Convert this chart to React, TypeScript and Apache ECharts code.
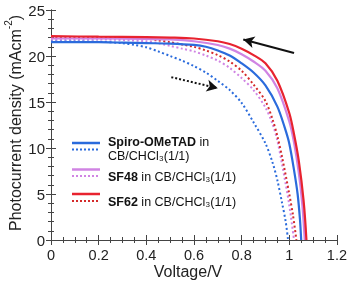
import React, { useEffect, useRef } from "react";
import * as echarts from "echarts";

const xTicks = [0, 0.2, 0.4, 0.6, 0.8, 1, 1.2];
const yTicks = [0, 5, 10, 15, 20, 25];

const spiroSolid = [[0,21.5],[0.1,21.5],[0.2,21.5],[0.3,21.45],[0.4,21.4],[0.5,21.35],[0.6,21.2],[0.65,21.0],[0.7,20.6],[0.75,20.05],[0.8,19.2],[0.85,18.2],[0.9,16.8],[0.95,14.5],[0.98,12.3],[1.0,10.5],[1.02,7.6],[1.035,5.0],[1.045,2.2],[1.05,0]];
const spiroDotted = [[0,21.6],[0.1,21.6],[0.2,21.55],[0.3,21.4],[0.35,21.2],[0.4,20.95],[0.45,20.5],[0.5,20.0],[0.55,19.5],[0.6,18.9],[0.65,18.2],[0.7,17.3],[0.75,16.3],[0.8,14.9],[0.85,12.8],[0.9,10.5],[0.93,8.4],[0.95,6.5],[0.97,4.0],[0.985,2.0],[0.995,0]];
const sf48Solid = [[0,21.9],[0.2,21.9],[0.4,21.85],[0.5,21.8],[0.6,21.6],[0.7,21.2],[0.75,20.8],[0.8,20.2],[0.85,19.4],[0.9,18.4],[0.95,16.5],[1.0,12.9],[1.02,10.6],[1.04,7.3],[1.055,3.8],[1.065,0]];
const sf48Dotted = [[0,21.8],[0.2,21.8],[0.4,21.6],[0.45,21.4],[0.5,21.1],[0.55,20.8],[0.6,20.5],[0.65,20.05],[0.7,19.5],[0.75,18.7],[0.8,17.6],[0.85,16.3],[0.9,14.4],[0.93,12.6],[0.95,10.8],[0.97,8.2],[1.0,3.8],[1.02,0]];
const sf62Solid = [[0,22.15],[0.2,22.1],[0.4,22.05],[0.5,22.0],[0.6,21.9],[0.7,21.6],[0.75,21.3],[0.8,20.8],[0.85,20.1],[0.9,19.2],[0.95,17.3],[1.0,13.8],[1.02,11.5],[1.04,8.6],[1.06,4.3],[1.072,0]];
const sf62Dotted = [[0,22.0],[0.2,22.0],[0.4,21.9],[0.45,21.7],[0.5,21.5],[0.55,21.25],[0.6,21.0],[0.65,20.6],[0.7,20.1],[0.75,19.4],[0.8,18.4],[0.85,16.9],[0.9,15.1],[0.93,13.1],[0.95,11.3],[0.97,9.0],[1.0,5.0],[1.015,2.8],[1.03,0]];

const solidArrow = [[1.02, 20.33], [0.807, 21.8]];
const dottedArrow = [[0.505, 17.7], [0.70, 16.5]];

const BLUE = "#2a6bdc";
const PINK = "#d084e3";
const RED = "#e8232f";
const RED_DOT = "#d42a2a";
const FONT = "Liberation Sans";

export default function App() {
  const ref = useRef<HTMLDivElement>(null);
  useEffect(() => {
    document.body.style.margin = "0";
    const chart = echarts.init(ref.current!, null, { renderer: "svg" });
    const axisLine = { show: true, lineStyle: { color: "#444", width: 1 } };
    const tickCommon = { show: true, inside: true, length: 5, lineStyle: { color: "#444", width: 1 } };
    const minorCommon = { show: true, length: 3, lineStyle: { color: "#444", width: 1 } };
    const rich = {
      b: { fontWeight: "bold", fontSize: 12.5, fontFamily: FONT, fill: "#111" },
      n: { fontSize: 12.5, fontFamily: FONT, fill: "#111" },
    };
    const line = (data: number[][], color: string, dotted: boolean, z: number) => ({
      type: "line",
      data,
      showSymbol: false,
      smooth: 0.3,
      z,
      lineStyle: dotted ? { color, width: 2, type: [2, 2.5] } : { color, width: 2.2 },
    });
    chart.setOption({
      animation: false,
      grid: { left: 51, right: 12, top: 10, bottom: 44 },
      xAxis: [
        {
          type: "value", min: 0, max: 1.2, interval: 0.2, position: "bottom",
          axisLine, axisTick: tickCommon, minorTick: { ...minorCommon, splitNumber: 4 },
          splitLine: { show: false },
          axisLabel: { color: "#222", fontSize: 14.5, fontFamily: FONT, margin: 7,
            formatter: (v: number) => (xTicks.includes(Math.round(v * 10) / 10) ? String(Math.round(v * 10) / 10) : "") },
        },
        {
          type: "value", min: 0, max: 1.2, interval: 0.2, position: "top",
          axisLine, axisTick: tickCommon, minorTick: { ...minorCommon, splitNumber: 4 },
          splitLine: { show: false }, axisLabel: { show: false },
        },
      ],
      yAxis: [
        {
          type: "value", min: 0, max: 25, interval: 5, position: "left",
          axisLine, axisTick: tickCommon, minorTick: { ...minorCommon, splitNumber: 5 },
          splitLine: { show: false },
          axisLabel: { color: "#222", fontSize: 15, fontFamily: FONT, margin: 6,
            formatter: (v: number) => (yTicks.includes(v) ? String(v) : "") },
        },
        {
          type: "value", min: 0, max: 25, interval: 5, position: "right",
          axisLine, axisTick: tickCommon, minorTick: { ...minorCommon, splitNumber: 5 },
          splitLine: { show: false }, axisLabel: { show: false },
        },
      ],
      series: [
        line(spiroDotted, BLUE, true, 2),
        line(sf48Dotted, PINK, true, 3),
        line(sf62Dotted, RED_DOT, true, 4),
        line(spiroSolid, BLUE, false, 5),
        line(sf48Solid, PINK, false, 6),
        line(sf62Solid, RED, false, 7),
        {
          type: "line",
          data: [],
          markLine: {
            silent: true,
            symbol: ["none", "arrow"],
            symbolSize: [9, 11],
            label: { show: false },
            data: [
              [{ coord: solidArrow[0], lineStyle: { color: "#111", width: 2, type: "solid" } }, { coord: solidArrow[1] }],
              [{ coord: dottedArrow[0], lineStyle: { color: "#111", width: 2, type: [2, 2] } }, { coord: dottedArrow[1] }],
            ],
          },
        },
      ],
      graphic: [
        { type: "line", shape: { x1: 72, y1: 143, x2: 100, y2: 143 }, style: { stroke: BLUE, lineWidth: 2.5 } },
        { type: "line", shape: { x1: 72, y1: 149.5, x2: 100, y2: 149.5 }, style: { stroke: BLUE, lineWidth: 2, lineDash: [2, 2] } },
        { type: "line", shape: { x1: 72, y1: 169.5, x2: 100, y2: 169.5 }, style: { stroke: PINK, lineWidth: 2.5 } },
        { type: "line", shape: { x1: 72, y1: 176, x2: 100, y2: 176 }, style: { stroke: PINK, lineWidth: 2, lineDash: [2, 2] } },
        { type: "line", shape: { x1: 72, y1: 194, x2: 100, y2: 194 }, style: { stroke: RED, lineWidth: 2.5 } },
        { type: "line", shape: { x1: 72, y1: 201, x2: 100, y2: 201 }, style: { stroke: RED_DOT, lineWidth: 2, lineDash: [2, 2] } },
        { type: "text", x: 108, y: 141.5, style: { text: "{b|Spiro-OMeTAD}{n| in}", textVerticalAlign: "middle", rich } },
        { type: "text", x: 108, y: 156, style: { text: "CB/CHCl₃(1/1)", fontSize: 12.5, fontFamily: FONT, fill: "#111", textVerticalAlign: "middle" } },
        { type: "text", x: 108, y: 176.5, style: { text: "{b|SF48}{n| in CB/CHCl₃(1/1)}", textVerticalAlign: "middle", rich } },
        { type: "text", x: 108, y: 201.5, style: { text: "{b|SF62}{n| in CB/CHCl₃(1/1)}", textVerticalAlign: "middle", rich } },
        { type: "text", x: 188, y: 271, style: { text: "Voltage/V", fontSize: 16, fontFamily: FONT, fill: "#222", textAlign: "center", textVerticalAlign: "middle" } },
        {
          type: "text", x: 13, y: 123, rotation: Math.PI / 2,
          style: {
            text: "{a|Photocurrent density (mAcm}{s|-2}{a|)}", textAlign: "center", textVerticalAlign: "middle",
            rich: {
              a: { fontSize: 16, fontFamily: FONT, fill: "#222", lineHeight: 20, verticalAlign: "bottom" },
              s: { fontSize: 10, fontFamily: FONT, fill: "#222", lineHeight: 20, verticalAlign: "top" },
            },
          },
        },
      ],
    });
    return () => chart.dispose();
  }, []);
  return <div ref={ref} style={{ width: 350, height: 284, position: "fixed", left: 0, top: 0 }} />;
}
